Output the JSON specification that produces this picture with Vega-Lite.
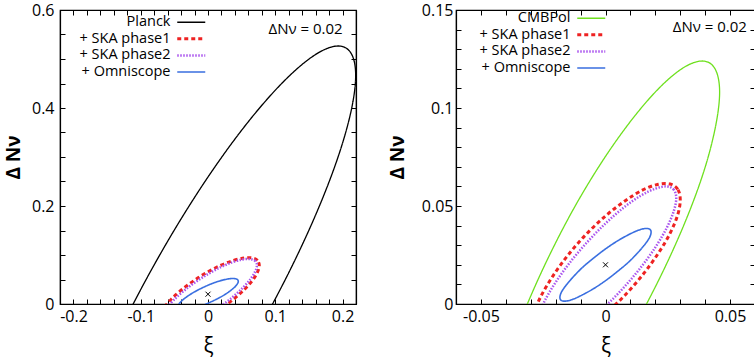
{
"$schema": "https://vega.github.io/schema/vega-lite/v6.json",
"background": "white",
"padding": {"left": 3, "top": 1, "right": 0, "bottom": 0},
"datasets": {
"left": [
{"s":"Planck","i":0,"x":0.2195,"y":0.4665},{"s":"Planck","i":1,"x":0.2120,"y":0.5132},{"s":"Planck","i":2,"x":0.1901,"y":0.5263},{"s":"Planck","i":3,"x":0.1552,"y":0.5049},{"s":"Planck","i":4,"x":0.1098,"y":0.4504},{"s":"Planck","i":5,"x":0.0568,"y":0.3666},{"s":"Planck","i":6,"x":0,"y":0.2592},{"s":"Planck","i":7,"x":-0.0568,"y":0.1354},{"s":"Planck","i":8,"x":-0.1098,"y":0.0038},{"s":"Planck","i":9,"x":-0.1552,"y":-0.1266},{"s":"Planck","i":10,"x":-0.1901,"y":-0.2471},{"s":"Planck","i":11,"x":-0.2120,"y":-0.3494},{"s":"Planck","i":12,"x":-0.2195,"y":-0.4265},{"s":"Planck","i":13,"x":-0.2120,"y":-0.4732},{"s":"Planck","i":14,"x":-0.1901,"y":-0.4863},{"s":"Planck","i":15,"x":-0.1552,"y":-0.4649},{"s":"Planck","i":16,"x":-0.1098,"y":-0.4104},{"s":"Planck","i":17,"x":-0.0568,"y":-0.3266},{"s":"Planck","i":18,"x":0,"y":-0.2192},{"s":"Planck","i":19,"x":0.0568,"y":-0.0954},{"s":"Planck","i":20,"x":0.1098,"y":0.0362},{"s":"Planck","i":21,"x":0.1552,"y":0.1666},{"s":"Planck","i":22,"x":0.1901,"y":0.2871},{"s":"Planck","i":23,"x":0.2120,"y":0.3894},
{"s":"+ SKA phase1","i":0,"x":0.0762,"y":0.0789},{"s":"+ SKA phase1","i":1,"x":0.0736,"y":0.0887},{"s":"+ SKA phase1","i":2,"x":0.0660,"y":0.0938},{"s":"+ SKA phase1","i":3,"x":0.0539,"y":0.0939},{"s":"+ SKA phase1","i":4,"x":0.0381,"y":0.0890},{"s":"+ SKA phase1","i":5,"x":0.0197,"y":0.0794},{"s":"+ SKA phase1","i":6,"x":0,"y":0.0657},{"s":"+ SKA phase1","i":7,"x":-0.0197,"y":0.0489},{"s":"+ SKA phase1","i":8,"x":-0.0381,"y":0.0301},{"s":"+ SKA phase1","i":9,"x":-0.0539,"y":0.0107},{"s":"+ SKA phase1","i":10,"x":-0.0660,"y":-0.0081},{"s":"+ SKA phase1","i":11,"x":-0.0736,"y":-0.0250},{"s":"+ SKA phase1","i":12,"x":-0.0762,"y":-0.0389},{"s":"+ SKA phase1","i":13,"x":-0.0736,"y":-0.0487},{"s":"+ SKA phase1","i":14,"x":-0.0660,"y":-0.0538},{"s":"+ SKA phase1","i":15,"x":-0.0539,"y":-0.0539},{"s":"+ SKA phase1","i":16,"x":-0.0381,"y":-0.0490},{"s":"+ SKA phase1","i":17,"x":-0.0197,"y":-0.0394},{"s":"+ SKA phase1","i":18,"x":0,"y":-0.0257},{"s":"+ SKA phase1","i":19,"x":0.0197,"y":-0.0089},{"s":"+ SKA phase1","i":20,"x":0.0381,"y":0.0099},{"s":"+ SKA phase1","i":21,"x":0.0539,"y":0.0293},{"s":"+ SKA phase1","i":22,"x":0.0660,"y":0.0481},{"s":"+ SKA phase1","i":23,"x":0.0736,"y":0.0650},
{"s":"+ SKA phase2","i":0,"x":0.0727,"y":0.0790},{"s":"+ SKA phase2","i":1,"x":0.0702,"y":0.0877},{"s":"+ SKA phase2","i":2,"x":0.0630,"y":0.0917},{"s":"+ SKA phase2","i":3,"x":0.0514,"y":0.0909},{"s":"+ SKA phase2","i":4,"x":0.0364,"y":0.0852},{"s":"+ SKA phase2","i":5,"x":0.0188,"y":0.0751},{"s":"+ SKA phase2","i":6,"x":0,"y":0.0612},{"s":"+ SKA phase2","i":7,"x":-0.0188,"y":0.0445},{"s":"+ SKA phase2","i":8,"x":-0.0364,"y":0.0262},{"s":"+ SKA phase2","i":9,"x":-0.0514,"y":0.0074},{"s":"+ SKA phase2","i":10,"x":-0.0630,"y":-0.0105},{"s":"+ SKA phase2","i":11,"x":-0.0702,"y":-0.0264},{"s":"+ SKA phase2","i":12,"x":-0.0727,"y":-0.0390},{"s":"+ SKA phase2","i":13,"x":-0.0702,"y":-0.0477},{"s":"+ SKA phase2","i":14,"x":-0.0630,"y":-0.0517},{"s":"+ SKA phase2","i":15,"x":-0.0514,"y":-0.0509},{"s":"+ SKA phase2","i":16,"x":-0.0364,"y":-0.0452},{"s":"+ SKA phase2","i":17,"x":-0.0188,"y":-0.0351},{"s":"+ SKA phase2","i":18,"x":0,"y":-0.0212},{"s":"+ SKA phase2","i":19,"x":0.0188,"y":-0.0045},{"s":"+ SKA phase2","i":20,"x":0.0364,"y":0.0138},{"s":"+ SKA phase2","i":21,"x":0.0514,"y":0.0326},{"s":"+ SKA phase2","i":22,"x":0.0630,"y":0.0505},{"s":"+ SKA phase2","i":23,"x":0.0702,"y":0.0664},
{"s":"+ Omniscope","i":0,"x":0.0450,"y":0.0462},{"s":"+ Omniscope","i":1,"x":0.0435,"y":0.0501},{"s":"+ Omniscope","i":2,"x":0.0390,"y":0.0519},{"s":"+ Omniscope","i":3,"x":0.0318,"y":0.0515},{"s":"+ Omniscope","i":4,"x":0.0225,"y":0.0490},{"s":"+ Omniscope","i":5,"x":0.0116,"y":0.0445},{"s":"+ Omniscope","i":6,"x":0,"y":0.0383},{"s":"+ Omniscope","i":7,"x":-0.0116,"y":0.0309},{"s":"+ Omniscope","i":8,"x":-0.0225,"y":0.0228},{"s":"+ Omniscope","i":9,"x":-0.0318,"y":0.0144},{"s":"+ Omniscope","i":10,"x":-0.0390,"y":0.0064},{"s":"+ Omniscope","i":11,"x":-0.0435,"y":-0.0006},{"s":"+ Omniscope","i":12,"x":-0.0450,"y":-0.0062},{"s":"+ Omniscope","i":13,"x":-0.0435,"y":-0.0101},{"s":"+ Omniscope","i":14,"x":-0.0390,"y":-0.0119},{"s":"+ Omniscope","i":15,"x":-0.0318,"y":-0.0115},{"s":"+ Omniscope","i":16,"x":-0.0225,"y":-0.0090},{"s":"+ Omniscope","i":17,"x":-0.0116,"y":-0.0045},{"s":"+ Omniscope","i":18,"x":0,"y":0.0017},{"s":"+ Omniscope","i":19,"x":0.0116,"y":0.0091},{"s":"+ Omniscope","i":20,"x":0.0225,"y":0.0172},{"s":"+ Omniscope","i":21,"x":0.0318,"y":0.0256},{"s":"+ Omniscope","i":22,"x":0.0390,"y":0.0336},{"s":"+ Omniscope","i":23,"x":0.0435,"y":0.0406}
],
"right": [
{"s":"CMBPol","i":0,"x":0.0458,"y":0.1081},{"s":"CMBPol","i":1,"x":0.0442,"y":0.1194},{"s":"CMBPol","i":2,"x":0.0397,"y":0.1239},{"s":"CMBPol","i":3,"x":0.0324,"y":0.1214},{"s":"CMBPol","i":4,"x":0.0229,"y":0.1119},{"s":"CMBPol","i":5,"x":0.0119,"y":0.0962},{"s":"CMBPol","i":6,"x":0,"y":0.0753},{"s":"CMBPol","i":7,"x":-0.0119,"y":0.0506},{"s":"CMBPol","i":8,"x":-0.0229,"y":0.0238},{"s":"CMBPol","i":9,"x":-0.0324,"y":-0.0032},{"s":"CMBPol","i":10,"x":-0.0397,"y":-0.0286},{"s":"CMBPol","i":11,"x":-0.0442,"y":-0.0508},{"s":"CMBPol","i":12,"x":-0.0458,"y":-0.0681},{"s":"CMBPol","i":13,"x":-0.0442,"y":-0.0794},{"s":"CMBPol","i":14,"x":-0.0397,"y":-0.0839},{"s":"CMBPol","i":15,"x":-0.0324,"y":-0.0814},{"s":"CMBPol","i":16,"x":-0.0229,"y":-0.0719},{"s":"CMBPol","i":17,"x":-0.0119,"y":-0.0562},{"s":"CMBPol","i":18,"x":0,"y":-0.0353},{"s":"CMBPol","i":19,"x":0.0119,"y":-0.0106},{"s":"CMBPol","i":20,"x":0.0229,"y":0.0162},{"s":"CMBPol","i":21,"x":0.0324,"y":0.0432},{"s":"CMBPol","i":22,"x":0.0397,"y":0.0686},{"s":"CMBPol","i":23,"x":0.0442,"y":0.0908},
{"s":"+ SKA phase1","i":0,"x":0.0300,"y":0.0532},{"s":"+ SKA phase1","i":1,"x":0.0290,"y":0.0585},{"s":"+ SKA phase1","i":2,"x":0.0260,"y":0.0612},{"s":"+ SKA phase1","i":3,"x":0.0212,"y":0.0611},{"s":"+ SKA phase1","i":4,"x":0.0150,"y":0.0582},{"s":"+ SKA phase1","i":5,"x":0.0078,"y":0.0526},{"s":"+ SKA phase1","i":6,"x":0,"y":0.0449},{"s":"+ SKA phase1","i":7,"x":-0.0078,"y":0.0355},{"s":"+ SKA phase1","i":8,"x":-0.0150,"y":0.0250},{"s":"+ SKA phase1","i":9,"x":-0.0212,"y":0.0141},{"s":"+ SKA phase1","i":10,"x":-0.0260,"y":0.0037},{"s":"+ SKA phase1","i":11,"x":-0.0290,"y":-0.0056},{"s":"+ SKA phase1","i":12,"x":-0.0300,"y":-0.0132},{"s":"+ SKA phase1","i":13,"x":-0.0290,"y":-0.0185},{"s":"+ SKA phase1","i":14,"x":-0.0260,"y":-0.0212},{"s":"+ SKA phase1","i":15,"x":-0.0212,"y":-0.0211},{"s":"+ SKA phase1","i":16,"x":-0.0150,"y":-0.0182},{"s":"+ SKA phase1","i":17,"x":-0.0078,"y":-0.0126},{"s":"+ SKA phase1","i":18,"x":0,"y":-0.0049},{"s":"+ SKA phase1","i":19,"x":0.0078,"y":0.0045},{"s":"+ SKA phase1","i":20,"x":0.0150,"y":0.0150},{"s":"+ SKA phase1","i":21,"x":0.0212,"y":0.0259},{"s":"+ SKA phase1","i":22,"x":0.0260,"y":0.0363},{"s":"+ SKA phase1","i":23,"x":0.0290,"y":0.0456},
{"s":"+ SKA phase2","i":0,"x":0.0284,"y":0.0540},{"s":"+ SKA phase2","i":1,"x":0.0274,"y":0.0583},{"s":"+ SKA phase2","i":2,"x":0.0246,"y":0.0600},{"s":"+ SKA phase2","i":3,"x":0.0201,"y":0.0589},{"s":"+ SKA phase2","i":4,"x":0.0142,"y":0.0553},{"s":"+ SKA phase2","i":5,"x":0.0073,"y":0.0492},{"s":"+ SKA phase2","i":6,"x":0,"y":0.0411},{"s":"+ SKA phase2","i":7,"x":-0.0073,"y":0.0316},{"s":"+ SKA phase2","i":8,"x":-0.0142,"y":0.0213},{"s":"+ SKA phase2","i":9,"x":-0.0201,"y":0.0109},{"s":"+ SKA phase2","i":10,"x":-0.0246,"y":0.0011},{"s":"+ SKA phase2","i":11,"x":-0.0274,"y":-0.0074},{"s":"+ SKA phase2","i":12,"x":-0.0284,"y":-0.0140},{"s":"+ SKA phase2","i":13,"x":-0.0274,"y":-0.0183},{"s":"+ SKA phase2","i":14,"x":-0.0246,"y":-0.0200},{"s":"+ SKA phase2","i":15,"x":-0.0201,"y":-0.0189},{"s":"+ SKA phase2","i":16,"x":-0.0142,"y":-0.0153},{"s":"+ SKA phase2","i":17,"x":-0.0073,"y":-0.0092},{"s":"+ SKA phase2","i":18,"x":0,"y":-0.0011},{"s":"+ SKA phase2","i":19,"x":0.0073,"y":0.0084},{"s":"+ SKA phase2","i":20,"x":0.0142,"y":0.0187},{"s":"+ SKA phase2","i":21,"x":0.0201,"y":0.0291},{"s":"+ SKA phase2","i":22,"x":0.0246,"y":0.0389},{"s":"+ SKA phase2","i":23,"x":0.0274,"y":0.0474},
{"s":"+ Omniscope","i":0,"x":0.0183,"y":0.0367},{"s":"+ Omniscope","i":1,"x":0.0177,"y":0.0382},{"s":"+ Omniscope","i":2,"x":0.0158,"y":0.0385},{"s":"+ Omniscope","i":3,"x":0.0129,"y":0.0375},{"s":"+ Omniscope","i":4,"x":0.0092,"y":0.0353},{"s":"+ Omniscope","i":5,"x":0.0047,"y":0.0321},{"s":"+ Omniscope","i":6,"x":0,"y":0.0281},{"s":"+ Omniscope","i":7,"x":-0.0047,"y":0.0235},{"s":"+ Omniscope","i":8,"x":-0.0092,"y":0.0187},{"s":"+ Omniscope","i":9,"x":-0.0129,"y":0.0139},{"s":"+ Omniscope","i":10,"x":-0.0158,"y":0.0096},{"s":"+ Omniscope","i":11,"x":-0.0177,"y":0.0060},{"s":"+ Omniscope","i":12,"x":-0.0183,"y":0.0033},{"s":"+ Omniscope","i":13,"x":-0.0177,"y":0.0018},{"s":"+ Omniscope","i":14,"x":-0.0158,"y":0.0015},{"s":"+ Omniscope","i":15,"x":-0.0129,"y":0.0025},{"s":"+ Omniscope","i":16,"x":-0.0092,"y":0.0047},{"s":"+ Omniscope","i":17,"x":-0.0047,"y":0.0079},{"s":"+ Omniscope","i":18,"x":0,"y":0.0119},{"s":"+ Omniscope","i":19,"x":0.0047,"y":0.0165},{"s":"+ Omniscope","i":20,"x":0.0092,"y":0.0213},{"s":"+ Omniscope","i":21,"x":0.0129,"y":0.0261},{"s":"+ Omniscope","i":22,"x":0.0158,"y":0.0304},{"s":"+ Omniscope","i":23,"x":0.0177,"y":0.0340}
]
},
"hconcat": [
{
"width": 296, "height": 294,
"layer": [
{
"data": {"name": "left"},
"mark": {"type": "line", "clip": true, "interpolate": "cardinal-closed"},
"encoding": {
"x": {"field": "x", "type": "quantitative", "scale": {"domain": [-0.22, 0.22], "nice": false, "zero": false},
 "axis": {"title": "ξ", "values": [-0.2,-0.18,-0.16,-0.14,-0.12,-0.1,-0.08,-0.06,-0.04,-0.02,0,0.02,0.04,0.06,0.08,0.1,0.12,0.14,0.16,0.18,0.2], "labelExpr": "indexof([-0.2,-0.1,0,0.1,0.2], datum.value) >= 0 ? datum.value + '' : ''"}},
"y": {"field": "y", "type": "quantitative", "scale": {"domain": [0, 0.6], "nice": false, "zero": false},
 "axis": {"title": "Δ Nν", "titlePadding": 8, "values": [0,0.05,0.1,0.15,0.2,0.25,0.3,0.35,0.4,0.45,0.5,0.55,0.6], "labelExpr": "indexof([0,0.2,0.4,0.6], datum.value) >= 0 ? datum.value + '' : ''"}},
"order": {"field": "i", "type": "quantitative"},
"color": {"field": "s", "type": "nominal", "scale": {"domain": ["Planck", "+ SKA phase1", "+ SKA phase2", "+ Omniscope"], "range": ["#000000", "#ee2222", "#aa55ee", "#3a6fe0"]},
 "legend": {"title": null, "orient": "none", "legendX": 24, "legendY": 5, "padding": 0, "labelFont": "Open Sans", "labelFontSize": 14.5, "labelColor": "black", "labelAlign": "right", "labelOffset": -28, "symbolOffset": 100, "symbolSize": 100, "symbolType": "stroke", "rowPadding": 1.6, "labelLimit": 200,
  "encode": {"symbols": {"update": {"size": {"value": 784}, "strokeWidth": {"signal": "datum.value === '+ SKA phase1' ? 3 : datum.value === '+ SKA phase2' ? 2.5 : datum.value === '+ Omniscope' ? 1.6 : 1.3"}}}}}},
"strokeDash": {"field": "s", "type": "nominal", "scale": {"domain": ["Planck", "+ SKA phase1", "+ SKA phase2", "+ Omniscope"], "range": [[1,0],[4,3],[1.5,1.5],[1,0]]},
 "legend": {"title": null, "orient": "none", "legendX": 24, "legendY": 5, "padding": 0, "labelFont": "Open Sans", "labelFontSize": 14.5, "labelColor": "black", "labelAlign": "right", "labelOffset": -28, "symbolOffset": 100, "symbolSize": 100, "symbolType": "stroke", "rowPadding": 1.6, "labelLimit": 200,
  "encode": {"symbols": {"update": {"size": {"value": 784}, "strokeWidth": {"signal": "datum.value === '+ SKA phase1' ? 3 : datum.value === '+ SKA phase2' ? 2.5 : datum.value === '+ Omniscope' ? 1.6 : 1.3"}}}}}},
"strokeWidth": {"condition": [{"test": "datum.s === '+ SKA phase1'", "value": 3}, {"test": "datum.s === '+ SKA phase2'", "value": 2.5}, {"test": "datum.s === '+ Omniscope'", "value": 1.6}], "value": 1.3}
}
},
{
"data": {"values": [{}]},
"mark": {"type": "point", "shape": "M-1,-1L1,1M-1,1L1,-1", "size": 25, "color": "black", "strokeWidth": 1, "opacity": 1},
"encoding": {
"x": {"datum": 0, "type": "quantitative", "axis": {"orient": "top", "labels": false, "title": null, "values": [-0.2,-0.18,-0.16,-0.14,-0.12,-0.1,-0.08,-0.06,-0.04,-0.02,0,0.02,0.04,0.06,0.08,0.1,0.12,0.14,0.16,0.18,0.2]}},
"y": {"datum": 0.02, "type": "quantitative", "axis": {"orient": "right", "labels": false, "title": null, "values": [0,0.05,0.1,0.15,0.2,0.25,0.3,0.35,0.4,0.45,0.5,0.55,0.6]}}
}
},
{
"data": {"values": [{}]},
"mark": {"type": "text", "align": "left", "baseline": "middle", "fontSize": 15, "font": "Open Sans", "color": "black"},
"encoding": {
"x": {"datum": 0.09, "type": "quantitative", "axis": null},
"y": {"datum": 0.562, "type": "quantitative", "axis": null},
"text": {"value": "ΔNν = 0.02"}
}
}
],
"resolve": {"axis": {"x": "independent", "y": "independent"}}
},
{
"width": 299, "height": 294,
"layer": [
{
"data": {"name": "right"},
"mark": {"type": "line", "clip": true, "interpolate": "cardinal-closed"},
"encoding": {
"x": {"field": "x", "type": "quantitative", "scale": {"domain": [-0.06, 0.06], "nice": false, "zero": false},
 "axis": {"title": "ξ", "values": [-0.05,-0.04,-0.03,-0.02,-0.01,0,0.01,0.02,0.03,0.04,0.05], "labelExpr": "indexof([-0.05,0,0.05], datum.value) >= 0 ? datum.value + '' : ''"}},
"y": {"field": "y", "type": "quantitative", "scale": {"domain": [0, 0.15], "nice": false, "zero": false},
 "axis": {"title": "Δ Nν", "labelPadding": 8, "titlePadding": 14, "values": [0,0.01,0.02,0.03,0.04,0.05,0.06,0.07,0.08,0.09,0.1,0.11,0.12,0.13,0.14,0.15], "labelExpr": "indexof([0,0.05,0.1,0.15], datum.value) >= 0 ? datum.value + '' : ''"}},
"order": {"field": "i", "type": "quantitative"},
"color": {"field": "s", "type": "nominal", "scale": {"domain": ["CMBPol", "+ SKA phase1", "+ SKA phase2", "+ Omniscope"], "range": ["#6ee01e", "#ee2222", "#aa55ee", "#3a6fe0"]},
 "legend": {"title": null, "orient": "none", "legendX": 28, "legendY": 1, "padding": 0, "labelFont": "Open Sans", "labelFontSize": 14.5, "labelColor": "black", "labelAlign": "right", "labelOffset": -28, "symbolOffset": 100, "symbolSize": 100, "symbolType": "stroke", "rowPadding": 1.6, "labelLimit": 200,
  "encode": {"symbols": {"update": {"size": {"value": 784}, "strokeWidth": {"signal": "datum.value === '+ SKA phase1' ? 3 : datum.value === '+ SKA phase2' ? 2.5 : datum.value === '+ Omniscope' ? 1.6 : 1.3"}}}}}},
"strokeDash": {"field": "s", "type": "nominal", "scale": {"domain": ["CMBPol", "+ SKA phase1", "+ SKA phase2", "+ Omniscope"], "range": [[1,0],[4,3],[1.5,1.5],[1,0]]},
 "legend": {"title": null, "orient": "none", "legendX": 28, "legendY": 1, "padding": 0, "labelFont": "Open Sans", "labelFontSize": 14.5, "labelColor": "black", "labelAlign": "right", "labelOffset": -28, "symbolOffset": 100, "symbolSize": 100, "symbolType": "stroke", "rowPadding": 1.6, "labelLimit": 200,
  "encode": {"symbols": {"update": {"size": {"value": 784}, "strokeWidth": {"signal": "datum.value === '+ SKA phase1' ? 3 : datum.value === '+ SKA phase2' ? 2.5 : datum.value === '+ Omniscope' ? 1.6 : 1.3"}}}}}},
"strokeWidth": {"condition": [{"test": "datum.s === '+ SKA phase1'", "value": 3}, {"test": "datum.s === '+ SKA phase2'", "value": 2.5}, {"test": "datum.s === '+ Omniscope'", "value": 1.6}], "value": 1.3}
}
},
{
"data": {"values": [{}]},
"mark": {"type": "point", "shape": "M-1,-1L1,1M-1,1L1,-1", "size": 25, "color": "black", "strokeWidth": 1, "opacity": 1},
"encoding": {
"x": {"datum": 0, "type": "quantitative", "axis": {"orient": "top", "labels": false, "title": null, "values": [-0.05,-0.04,-0.03,-0.02,-0.01,0,0.01,0.02,0.03,0.04,0.05]}},
"y": {"datum": 0.02, "type": "quantitative", "axis": {"orient": "right", "labels": false, "title": null, "values": [0,0.01,0.02,0.03,0.04,0.05,0.06,0.07,0.08,0.09,0.1,0.11,0.12,0.13,0.14,0.15]}}
}
},
{
"data": {"values": [{}]},
"mark": {"type": "text", "align": "left", "baseline": "middle", "fontSize": 15, "font": "Open Sans", "color": "black"},
"encoding": {
"x": {"datum": 0.027, "type": "quantitative", "axis": null},
"y": {"datum": 0.1415, "type": "quantitative", "axis": null},
"text": {"value": "ΔNν = 0.02"}
}
}
],
"resolve": {"axis": {"x": "independent", "y": "independent"}}
}
],
"spacing": 29,
"resolve": {"scale": {"color": "independent", "strokeDash": "independent", "x": "independent", "y": "independent"}, "legend": {"color": "independent", "strokeDash": "independent"}},
"config": {
"font": "Open Sans",
"view": {"stroke": "black", "strokeWidth": 1.2},
"axis": {"grid": false, "tickSize": -5, "tickColor": "black", "tickWidth": 1, "domainColor": "black", "domainWidth": 1.2, "labelFont": "Open Sans", "labelFontSize": 16, "labelColor": "black", "labelFlush": false, "labelOverlap": false, "titleFont": "Open Sans", "titleColor": "black"},
"axisX": {"labelPadding": 9, "titleFontSize": 21, "titleFontWeight": "normal", "titlePadding": 11},
"axisY": {"labelPadding": 11, "titleFontSize": 19, "titleFontWeight": "bold", "titlePadding": 10}
}
}
